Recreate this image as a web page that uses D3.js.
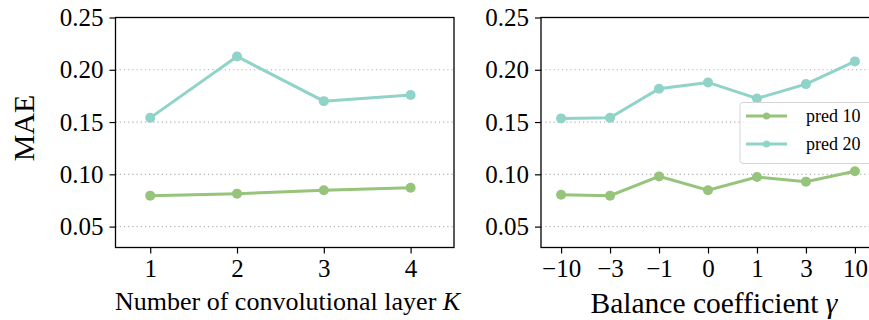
<!DOCTYPE html>
<html><head><meta charset="utf-8">
<script src="https://cdn.jsdelivr.net/npm/d3@7"></script>
<style>body{margin:0;background:#fff}svg{display:block}text{font-family:"Liberation Serif","DejaVu Serif",serif;fill:#000}</style>
</head><body><svg id="c" width="869" height="320"></svg>
<script>
const layers = [1, 2, 3, 4];
const layerPred10 = [0.0796, 0.0815, 0.0847, 0.0872];
const layerPred20 = [0.154, 0.2127, 0.170, 0.1758];
const gammaLabels = ["\u221210", "\u22123", "\u22121", "0", "1", "3", "10"];
const gammaPred10 = [0.0805, 0.0796, 0.098, 0.0847, 0.0974, 0.093, 0.1029];
const gammaPred20 = [0.1535, 0.154, 0.1818, 0.1879, 0.1726, 0.1863, 0.208];
const yTicks = [0.05, 0.10, 0.15, 0.20, 0.25];
const seriesNames = ["pred 10", "pred 20"];
const colors = ["#95c47a", "#8fd3c9"];
const SERIF = '"Liberation Serif", "DejaVu Serif", serif';

const svg = d3.select("#c");
const yTop = 17.5, yBottom = 247.5;
const y = d3.scaleLinear().domain([0.03, 0.25]).range([yBottom, yTop]);

function panel(x0, x1, xs, xvals, s10, s20) {
  const g = svg.append("g");
  const x = d3.scaleLinear().domain(xs.domain).range([x0, x1]);
  g.selectAll(".grid").data(yTicks.slice(0, 4)).enter().append("line")
    .attr("x1", x0).attr("x2", x1).attr("y1", d => y(d)).attr("y2", d => y(d))
    .attr("stroke", "#b0b0b0").attr("stroke-width", 1.2).attr("stroke-dasharray", "1.2,3");
  const ya = g.append("g").attr("transform", `translate(${x0},0)`)
    .call(d3.axisLeft(y).tickValues(yTicks).tickFormat(d3.format(".2f")).tickSize(6).tickPadding(6));
  ya.select(".domain").remove();
  ya.attr("font-family", null).attr("font-size", null);
  ya.selectAll("text").style("font-size", "25px").style("font-family", SERIF);
  ya.selectAll("line").attr("stroke-width", 1.2);
  const xa = g.append("g").attr("transform", `translate(0,${yBottom})`)
    .call(d3.axisBottom(x).tickValues(xvals.map((d, i) => i)).tickFormat((d, i) => xs.labels[i]).tickSize(6).tickPadding(6));
  xa.select(".domain").remove();
  xa.attr("font-family", null).attr("font-size", null);
  xa.selectAll("text").style("font-size", "25px").style("font-family", SERIF);
  xa.selectAll("line").attr("stroke-width", 1.2);
  [s10, s20].forEach((s, k) => {
    const line = d3.line().x((d, i) => x(i)).y(d => y(d));
    g.append("path").datum(s).attr("d", line).attr("fill", "none")
      .attr("stroke", colors[k]).attr("stroke-width", 3);
    g.selectAll(".pt" + k).data(s).enter().append("circle")
      .attr("cx", (d, i) => x(i)).attr("cy", d => y(d)).attr("r", 5).attr("fill", colors[k]);
  });
  g.append("rect").attr("x", x0).attr("y", yTop).attr("width", x1 - x0).attr("height", yBottom - yTop)
    .attr("fill", "none").attr("stroke", "#000").attr("stroke-width", 1.3);
  return {g, x};
}

const p1 = panel(115.5, 454, {domain: [-0.4, 3.5], labels: layers.map(String)}, layers, layerPred10, layerPred20);
p1.g.append("text").attr("x", 115).attr("y", 310).style("font-size", "26px").style("font-family", SERIF)
  .html('Number of convolutional layer <tspan font-style="italic">K</tspan>');
svg.append("text").attr("transform", "translate(34,128) rotate(-90)").attr("text-anchor", "middle")
  .style("font-size", "30px").style("font-family", SERIF).text("MAE");

const p2 = panel(541, 875, {domain: [-0.41, 6.41], labels: gammaLabels}, gammaLabels, gammaPred10, gammaPred20);
p2.g.append("text").attr("x", 714).attr("y", 313).attr("text-anchor", "middle").style("font-size", "29.5px").style("font-family", SERIF)
  .html('Balance coefficient <tspan font-style="italic">\u03b3</tspan>');

const lg = svg.append("g");
lg.append("rect").attr("x", 740).attr("y", 102.5).attr("width", 140).attr("height", 61).attr("rx", 3)
  .attr("fill", "#fff").attr("fill-opacity", 0.85).attr("stroke", "#d5d5d5").attr("stroke-width", 1);
seriesNames.forEach((n, k) => {
  const yy = 116 + k * 28;
  lg.append("line").attr("x1", 746).attr("x2", 787).attr("y1", yy).attr("y2", yy)
    .attr("stroke", colors[k]).attr("stroke-width", 3);
  lg.append("circle").attr("cx", 766.5).attr("cy", yy).attr("r", 3.5).attr("fill", colors[k]);
  lg.append("text").attr("x", 806).attr("y", yy + 6).style("font-size", "18px").style("font-family", SERIF).text(n);
});
</script></body></html>
